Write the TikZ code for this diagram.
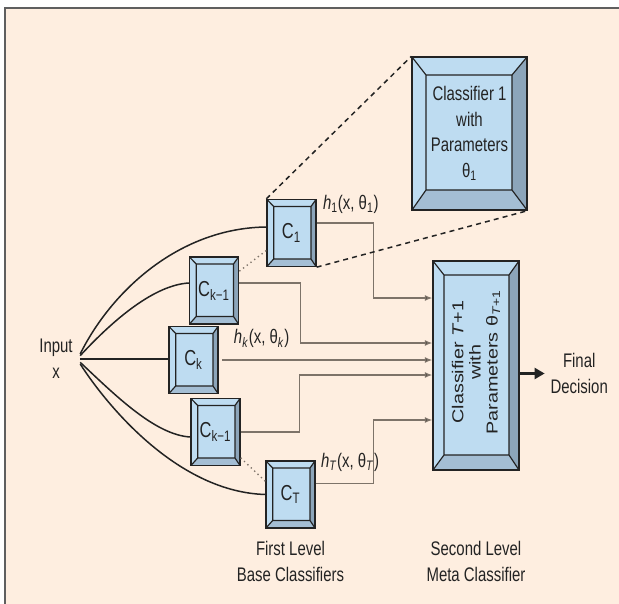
\documentclass[tikz,border=0pt]{standalone}
\usepackage{fontspec}
\setmainfont{Liberation Sans}[FakeStretch=0.76]
\newfontfamily\widesans{Liberation Sans}[FakeStretch=1.25]
\usetikzlibrary{positioning,arrows.meta,calc}
\definecolor{panel}{RGB}{254,238,224}
\definecolor{face}{RGB}{190,220,241}
\definecolor{sidedark}{RGB}{140,165,186}
\definecolor{sidemid}{RGB}{164,190,212}
\definecolor{ink}{RGB}{35,35,35}
\definecolor{wire}{RGB}{125,115,105}
\definecolor{frame}{RGB}{95,95,95}
\tikzset{
  bevelbox/.style args={#1/#2/#3/#4}{draw=ink, line width=0.8pt, fill=face, inner sep=0pt,
    path picture={
      \coordinate (bnw) at (path picture bounding box.north west);
      \coordinate (bne) at (path picture bounding box.north east);
      \coordinate (bsw) at (path picture bounding box.south west);
      \coordinate (bse) at (path picture bounding box.south east);
      \coordinate (inw) at ([shift={(#1,-#3)}]bnw);
      \coordinate (ine) at ([shift={(-#2,-#3)}]bne);
      \coordinate (isw) at ([shift={(#1,#4)}]bsw);
      \coordinate (ise) at ([shift={(-#2,#4)}]bse);
      \fill[sidemid] (bsw) -- (isw) -- (ise) -- (bse) -- cycle;
      \fill[sidedark] (bne) -- (ine) -- (ise) -- (bse) -- cycle;
      \draw[line width=0.7pt, draw=ink] (inw) rectangle (ise)
        (bnw) -- (inw) (bne) -- (ine) (bsw) -- (isw) (bse) -- (ise);
    }},
  base/.style={bevelbox=4pt/3pt/4.2pt/4.5pt, minimum width=29.4pt, minimum height=40.2pt,
    font=\fontsize{13}{15}\selectfont},
  txt/.style={text=ink, align=center},
  lbl/.style={text=ink, inner sep=1pt, anchor=west},
  inwire/.style={draw=ink, line width=0.9pt},
  feed/.style={-{Latex[length=4.5pt,width=3.6pt,fill=ink]}, draw=wire, line width=0.8pt},
  outarrow/.style={-{Triangle[length=6pt,width=6.5pt]}, draw=ink, line width=1.8pt},
  zoomline/.style={draw=ink, line width=0.9pt, dash pattern=on 3pt off 2.5pt},
  dots/.style={draw=wire, line width=0.8pt, dotted}
}

\begin{document}
\begin{tikzpicture}[x=0.6pt, y=-0.6pt, font=\fontsize{11.8}{15.4}\selectfont]
  \useasboundingbox (0,0) rectangle (619,604);
  \fill[panel] (5,8) rectangle (625,610);
  \draw[frame, line width=1pt] (5,610) -- (5,8) -- (625,8);

  % base classifiers
  \node[base, txt] (C1) at (291.5,233) {C\textsubscript{1}};
  \node[base, txt] (Cku) at (214,290.5) {C\textsubscript{k−1}};
  \node[base, txt] (Ck) at (193.5,360) {C\textsubscript{k}};
  \node[base, txt] (Ckl) at (215.5,432) {C\textsubscript{k−1}};
  \node[base, txt] (CT) at (290.5,494.5) {C\textsubscript{T}};

  % zoomed view and meta classifier
  \node[bevelbox=8.4pt/9pt/10.8pt/12pt, minimum width=69pt, minimum height=91.8pt, txt] (big) at (469.5,133.5)
    {Classifier 1\\with\\Parameters\\θ\textsubscript{1}};
  \node[bevelbox=6.6pt/6pt/8.4pt/9pt, minimum width=51.6pt, minimum height=125.4pt] (meta) at (476,365.5) {};
  \node[txt, rotate=90, font=\widesans\fontsize{9.5}{10.3}\selectfont] (metatxt) at ([yshift=2pt]meta.center)
    {Classifier \textit{T}+1\\with\\Parameters θ\textsubscript{\textit{T}+1}};

  \node[txt] (input) at (56,359) {Input\\x};
  \coordinate[right=1pt of input] (fan);

  \node[lbl] (h1) at ([xshift=2.6pt, yshift=-3.6pt]C1.north east) {\textit{h}\textsubscript{1}(x, θ\textsubscript{1})};
  \node[lbl] (hk) at ([xshift=8pt, yshift=-7.8pt]Ck.north east) {\textit{h}\textsubscript{\textit{k}}(x, θ\textsubscript{\textit{k}})};
  \node[lbl] (hT) at ([xshift=2pt, yshift=-1.2pt]CT.north east) {\textit{h}\textsubscript{\textit{T}}(x, θ\textsubscript{\textit{T}})};

  \node[txt, anchor=west] (final) at ([xshift=15pt, yshift=-4.8pt]meta.east) {Final\\Decision};
  \node[txt, below=4pt of CT] (firstcap) {First Level\\Base Classifiers};
  \node[txt] (secondcap) at (firstcap -| meta) {Second Level\\Meta Classifier};

  % input fan
  \draw[inwire] ([yshift=3pt]fan) .. controls (112,290) and (180,228) .. ([yshift=3.6pt]C1.west);
  \draw[inwire] ([yshift=2pt]fan) .. controls (115,318) and (155,285) .. ([yshift=4.5pt]Cku.west);
  \draw[inwire] (fan) -- (fan -| Ck.west);
  \draw[inwire] ([yshift=-2pt]fan) .. controls (115,395) and (155,435) .. ([yshift=-3pt]Ckl.west);
  \draw[inwire] ([yshift=-3pt]fan) .. controls (110,410) and (180,492) .. (CT.west);

  % outputs to meta classifier
  \draw[feed] ([yshift=6pt]C1.east) -- ++(57,0) |- ([yshift=40.5pt]meta.west);
  \draw[feed] ([yshift=4.5pt]Cku.east) -- ++(61,0) |- ([yshift=13.5pt]meta.west);
  \draw[feed] ([xshift=2pt]Ck.east) -- (Ck.east -| meta.west);
  \draw[feed] (Ckl.east) -- ++(59,0) |- ([yshift=-5.7pt]meta.west);
  \draw[feed] ([yshift=6.6pt]CT.east) -- ++(58,0) |- ([yshift=-32.7pt]meta.west);
  \draw[outarrow] (final.west -| meta.east) -- (final.west);

  \draw[dots] ([yshift=10pt]C1.south west) -- ([yshift=-9pt]Cku.north east);
  \draw[dots] ([yshift=5pt]Ckl.south east) -- ([yshift=-12.6pt]CT.north west);
  \draw[zoomline] (C1.north west) -- (big.north west);
  \draw[zoomline] (C1.south east) -- (big.south east);
\end{tikzpicture}
\end{document}
